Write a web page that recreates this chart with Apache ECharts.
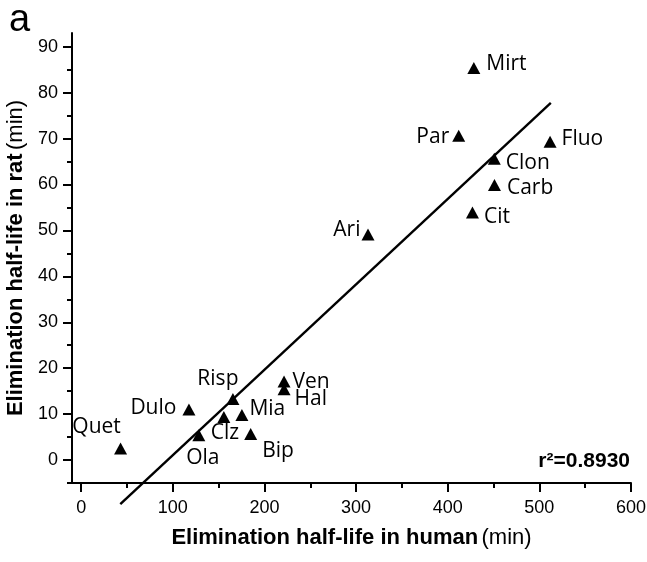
<!DOCTYPE html>
<html>
<head>
<meta charset="utf-8">
<script src="https://cdn.jsdelivr.net/npm/echarts@6/dist/echarts.min.js"></script>
<style>
  html, body { margin: 0; padding: 0; background: #fff; }
  #chart { width: 647px; height: 562px; }
</style>
</head>
<body>
<div id="chart"></div>
<script>
// elimination half-life, human vs rat (min)
const drugs = ['Mirt', 'Par', 'Fluo', 'Clon', 'Carb', 'Cit', 'Ari', 'Risp', 'Ven', 'Hal', 'Dulo', 'Mia', 'Clz', 'Ola', 'Bip', 'Quet'];
const humanHalfLife = [428.5, 412, 511.7, 450.8, 451, 427, 313, 165.6, 221.4, 221.4, 117.6, 175.4, 155.7, 128.4, 185, 43];
const ratHalfLife = [85.4, 70.6, 69.3, 65.6, 59.9, 53.9, 49.1, 13.3, 17.1, 15.4, 11.0, 9.8, 9.35, 5.4, 5.65, 2.5];
const fitLine = [[42.7, -9.6], [512.5, 77.8]];
const xMajorTicks = [0, 100, 200, 300, 400, 500, 600];
const xMinorTicks = [50, 150, 250, 350, 450, 550];
const yMajorTicks = [0, 10, 20, 30, 40, 50, 60, 70, 80, 90];
const yMinorTicks = [-5, 5, 15, 25, 35, 45, 55, 65, 75, 85];
const r2Text = 'r²=0.8930';

// where each drug name sits next to its marker
const labelPlace = {
  Mirt: ['right', [1, -4]],
  Par: ['left', [2, 1]],
  Fluo: ['right', [0, -3]],
  Clon: ['right', [0, 4]],
  Carb: ['right', [1, 3]],
  Cit: ['right', [0, 4]],
  Ari: ['left', [4, -5]],
  Risp: ['top', [-15, 2]],
  Ven: ['right', [-3, 0]],
  Hal: ['right', [-1, 10]],
  Dulo: ['left', [-1, -2]],
  Mia: ['right', [-4, -6]],
  Clz: ['bottom', [1, -6]],
  Ola: ['bottom', [4, 1]],
  Bip: ['right', [0, 17]],
  Quet: ['top', [-24, 0]]
};

const chart = echarts.init(document.getElementById('chart'));

const axisFont = { fontFamily: 'Liberation Sans', fontSize: 18, color: '#000' };
const nameRich = {
  b: { fontFamily: 'Liberation Sans', fontSize: 22, fontWeight: 'bold', color: '#000' },
  n: { fontFamily: 'Liberation Sans', fontSize: 22, color: '#000' }
};
const lineStyle = { color: '#000', width: 2 };

const points = drugs.map((d, i) => ({
  name: d,
  value: [humanHalfLife[i], ratHalfLife[i]],
  label: { position: labelPlace[d][0], offset: labelPlace[d][1] }
}));

const option = {
  backgroundColor: '#fff',
  animation: false,
  grid: { left: 72, top: 33, width: 559, height: 450, outerBoundsMode: 'none' },
  xAxis: [
    {
      type: 'value', min: -10, max: 600,
      splitLine: { show: false },
      axisLine: { onZero: false, lineStyle: lineStyle },
      axisTick: { customValues: xMajorTicks, length: 9, lineStyle: lineStyle },
      axisLabel: { customValues: xMajorTicks, margin: 16, ...axisFont },
      name: '{b|Elimination half-life in human} {n|(min)}',
      nameLocation: 'middle',
      nameGap: 44,
      nameTextStyle: { rich: nameRich }
    },
    {
      type: 'value', min: -10, max: 600, position: 'bottom', offset: 0,
      splitLine: { show: false },
      axisLine: { show: false, onZero: false },
      axisTick: { customValues: xMinorTicks, length: 5, lineStyle: lineStyle },
      axisLabel: { show: false }
    }
  ],
  yAxis: [
    {
      type: 'value', min: -5, max: 93,
      splitLine: { show: false },
      axisLine: { onZero: false, lineStyle: lineStyle },
      axisTick: { customValues: yMajorTicks, length: 9, lineStyle: lineStyle },
      axisLabel: { customValues: yMajorTicks, margin: 14, ...axisFont },
      name: '{b|Elimination half-life in rat} {n|(min)}',
      nameLocation: 'middle',
      nameGap: 39,
      nameTextStyle: { rich: nameRich }
    },
    {
      type: 'value', min: -5, max: 93, position: 'left', offset: 0,
      splitLine: { show: false },
      axisLine: { show: false, onZero: false },
      axisTick: { customValues: yMinorTicks, length: 5, lineStyle: lineStyle },
      axisLabel: { show: false }
    }
  ],
  series: [
    {
      type: 'line',
      data: fitLine,
      symbol: 'none',
      clip: false,
      lineStyle: { color: '#000', width: 2.4 },
      silent: true,
      z: 1
    },
    {
      type: 'scatter',
      data: points,
      symbol: 'triangle',
      symbolSize: [13, 12],
      itemStyle: { color: '#000', opacity: 1 },
      z: 2,
      label: {
        show: true,
        formatter: '{b}',
        fontFamily: 'Open Sans',
        fontSize: 21,
        color: '#000',
        opacity: 1
      }
    }
  ],
  graphic: [
    {
      type: 'text', left: 9, top: 2,
      style: { text: 'a', font: '38px "Liberation Sans"', fill: '#000' }
    },
    {
      type: 'text', right: 17, top: 451,
      style: { text: r2Text, font: 'bold 21px "Liberation Sans"', fill: '#000' }
    }
  ]
};

chart.setOption(option);
</script>
</body>
</html>
